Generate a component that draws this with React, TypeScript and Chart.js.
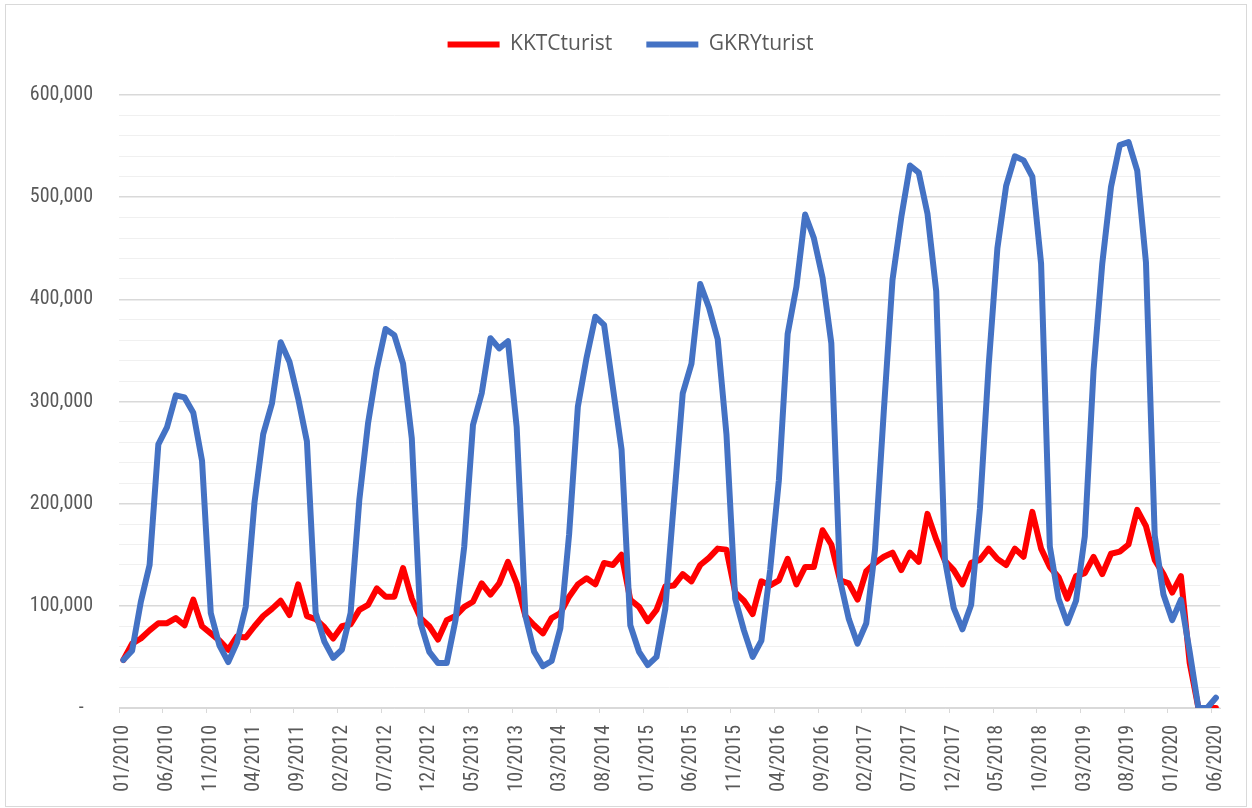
import React, { useEffect, useRef } from 'react';
import { Chart, registerables } from 'chart.js';

Chart.register(...registerables);

// Monthly categories 01/2010 .. 06/2020
const START_YEAR = 2010;
const MONTH_COUNT = 126;
const MONTH_LABELS: string[] = Array.from({ length: MONTH_COUNT }, (_, i) => {
  const m = (i % 12) + 1;
  const y = START_YEAR + Math.floor(i / 12);
  return `${String(m).padStart(2, '0')}/${y}`;
});

const KKTC_TURIST: number[] = [
  47000, 63000, 68000, 76000, 83000, 83000, 88000, 81000, 106000, 80000, 73000, 66000,
  57000, 70000, 69000, 80000, 90000, 97000, 105000, 91000, 121000, 90000, 87000, 79000,
  68000, 80000, 82000, 96000, 101000, 117000, 109000, 109000, 137000, 107000, 88000, 80000,
  67000, 86000, 90000, 99000, 104000, 122000, 111000, 122000, 143000, 122000, 90000, 81000,
  73000, 88000, 93000, 109000, 121000, 127000, 121000, 142000, 140000, 150000, 106000, 99000,
  85000, 96000, 119000, 120000, 131000, 124000, 140000, 147000, 156000, 155000, 113000, 105000,
  92000, 124000, 120000, 125000, 146000, 121000, 138000, 138000, 174000, 160000, 125000, 122000,
  106000, 134000, 142000, 148000, 152000, 135000, 152000, 143000, 190000, 165000, 144000, 135000,
  121000, 142000, 145000, 156000, 146000, 140000, 156000, 148000, 192000, 156000, 138000, 128000,
  107000, 129000, 132000, 148000, 131000, 151000, 153000, 160000, 194000, 178000, 145000, 131000,
  113000, 129000, 44000, 0, 0, 0,
];

const GKRY_TURIST: number[] = [
  47000, 56000, 104000, 140000, 258000, 275000, 306000, 304000, 289000, 242000, 93000, 61000,
  45000, 64000, 99000, 201000, 268000, 298000, 358000, 339000, 303000, 261000, 93000, 65000,
  49000, 57000, 93000, 204000, 279000, 332000, 371000, 365000, 337000, 264000, 83000, 55000,
  44000, 44000, 86000, 158000, 277000, 308000, 362000, 352000, 359000, 275000, 90000, 55000,
  41000, 46000, 78000, 170000, 295000, 343000, 383000, 375000, 314000, 253000, 81000, 55000,
  42000, 50000, 97000, 203000, 308000, 337000, 415000, 392000, 361000, 268000, 107000, 76000,
  50000, 66000, 135000, 223000, 366000, 412000, 483000, 460000, 421000, 357000, 125000, 87000,
  63000, 83000, 155000, 290000, 419000, 480000, 531000, 524000, 484000, 408000, 145000, 98000,
  77000, 101000, 195000, 335000, 450000, 511000, 540000, 536000, 520000, 435000, 158000, 107000,
  83000, 105000, 168000, 330000, 435000, 510000, 551000, 554000, 526000, 436000, 169000, 111000,
  86000, 106000, 55000, 0, 0, 10000,
];

const SERIES_NAMES = ['KKTCturist', 'GKRYturist'];
const SERIES_COLORS = ['#FF0000', '#4472C4'];
const Y_MIN = 0;
const Y_MAX = 600000;
const Y_STEP = 20000;
const Y_LABEL_STEP = 100000;
const X_LABEL_EVERY = 5;

const LEGEND_GAP = 30;
const LEGEND_SHIFT_X = 18;

const legendGapPlugin = {
  id: 'legendGap',
  afterInit(chart: any) {
    const lg = chart.legend;
    if (!lg || lg.__gapPatched) return;
    const origFit = lg.fit;
    lg.fit = function (...args: any[]) {
      origFit.apply(this, args);
      this.height += LEGEND_GAP;
    };
    lg.__gapPatched = true;
  },
  afterLayout(chart: any) {
    const lg = chart.legend;
    if (!lg) return;
    lg.left += LEGEND_SHIFT_X;
    lg.right += LEGEND_SHIFT_X;
  },
};

export default function App() {
  const canvasRef = useRef<HTMLCanvasElement | null>(null);

  useEffect(() => {
    const canvas = canvasRef.current;
    if (!canvas) return;
    const tickFont = {
      family: "'Roboto Condensed', 'DejaVu Sans Condensed', sans-serif",
      size: 20,
    };
    const chart = new Chart(canvas, {
      type: 'line',
      data: {
        labels: MONTH_LABELS,
        datasets: [
          {
            label: SERIES_NAMES[0],
            data: KKTC_TURIST,
            borderColor: SERIES_COLORS[0],
            backgroundColor: SERIES_COLORS[0],
            borderWidth: 6,
            pointRadius: 0,
            borderCapStyle: 'round',
            borderJoinStyle: 'round',
            tension: 0,
            order: 1,
          },
          {
            label: SERIES_NAMES[1],
            data: GKRY_TURIST,
            borderColor: SERIES_COLORS[1],
            backgroundColor: SERIES_COLORS[1],
            borderWidth: 6,
            pointRadius: 0,
            borderCapStyle: 'round',
            borderJoinStyle: 'round',
            tension: 0,
            order: 0,
          },
        ],
      },
      options: {
        animation: false,
        responsive: false,
        maintainAspectRatio: false,
        layout: { padding: { left: 0, right: 27, top: 0, bottom: 0 } },
        plugins: {
          tooltip: { enabled: false },
          legend: {
            position: 'top',
            labels: {
              usePointStyle: true,
              pointStyle: 'line',
              pointStyleWidth: 52,
              color: '#595959',
              font: { family: "'Open Sans', 'Noto Sans', sans-serif", size: 21 },
              padding: 34,
              sort: (a: any, b: any) => a.datasetIndex - b.datasetIndex,
            },
          },
        },
        scales: {
          x: {
            offset: true,
            grid: {
              offset: true,
              drawOnChartArea: false,
              drawTicks: true,
              tickLength: 5,
              color: (c: any) => (c.index % X_LABEL_EVERY === 0 ? '#d9d9d9' : 'rgba(0,0,0,0)'),
            },
            border: { display: true, color: '#d9d9d9', width: 1 },
            ticks: {
              autoSkip: false,
              maxRotation: 90,
              minRotation: 90,
              padding: 12,
              color: '#595959',
              font: tickFont,
              callback: (_v: any, i: number) => (i % X_LABEL_EVERY === 0 ? MONTH_LABELS[i] : ''),
            },
            afterFit: (s: any) => {
              s.height = 100;
            },
          },
          y: {
            min: Y_MIN,
            max: Y_MAX,
            grid: {
              drawTicks: false,
              color: (c: any) =>
                c.tick && c.tick.value % Y_LABEL_STEP === 0 ? '#d9d9d9' : '#f0f0f0',
              lineWidth: (c: any) => (c.tick && c.tick.value % Y_LABEL_STEP === 0 ? 1.5 : 1),
            },
            border: { display: false },
            ticks: {
              autoSkip: false,
              stepSize: Y_STEP,
              padding: 26,
              color: '#595959',
              font: tickFont,
              callback: (v: any) => {
                const n = Number(v);
                if (n % Y_LABEL_STEP !== 0) return '';
                if (n === 0) return '-  ';
                return n.toLocaleString('en-US');
              },
            },
            afterFit: (s: any) => {
              s.width = 119;
            },
          },
        },
      },
      plugins: [legendGapPlugin],
    } as any);
    return () => chart.destroy();
  }, []);

  return (
    <div style={{ position: 'fixed', left: 0, top: 0, width: 1252, height: 808, background: '#ffffff' }}>
      <div
        style={{
          position: 'absolute',
          left: 5,
          top: 4,
          width: 1242,
          height: 803,
          border: '1px solid #d9d9d9',
          boxSizing: 'border-box',
        }}
      />
      <canvas
        ref={canvasRef}
        width={1252}
        height={808}
        style={{ position: 'absolute', left: 0, top: 0, width: 1252, height: 808 }}
      />
    </div>
  );
}
